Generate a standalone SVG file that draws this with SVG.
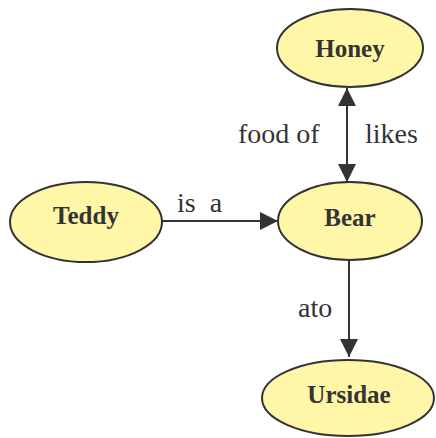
<svg xmlns="http://www.w3.org/2000/svg" width="436" height="438" viewBox="0 0 436 438">
<style>
.node{fill:#FFF6A8;stroke:#333333;stroke-width:2}
.nl{font-family:"Liberation Serif","Times New Roman",serif;font-weight:bold;font-size:25px;fill:#333333;text-anchor:middle}
.el{font-family:"Liberation Serif","Times New Roman",serif;font-size:28px;fill:#333333}
.edge{stroke:#333333;stroke-width:2;fill:none}
</style>
<defs>
<marker id="arr" markerWidth="18" markerHeight="18" viewBox="0 0 18 18" refX="18" refY="9" orient="auto-start-reverse" markerUnits="userSpaceOnUse">
<path d="M0,0 L18,9 L0,18 Z" fill="#333333"/>
</marker>
</defs>
<rect width="436" height="438" fill="#ffffff"/>
<g id="edges">
<line class="edge" x1="347" y1="88" x2="347" y2="182" marker-start="url(#arr)" marker-end="url(#arr)"/>
<line class="edge" x1="162" y1="221" x2="278" y2="221" marker-end="url(#arr)"/>
<line class="edge" x1="349" y1="260" x2="349" y2="357" marker-end="url(#arr)"/>
<text class="el" x="238" y="143">food of</text>
<text class="el" x="365" y="143">likes</text>
<text class="el" x="177" y="212" xml:space="preserve">is  a</text>
<text class="el" x="298" y="317">ato</text>
</g>
<g id="node-honey">
<ellipse class="node" cx="350" cy="48" rx="73" ry="39"/>
<text class="nl" x="350" y="57">Honey</text>
</g>
<g id="node-teddy">
<ellipse class="node" cx="86" cy="222" rx="76" ry="40"/>
<text class="nl" x="86" y="224">Teddy</text>
</g>
<g id="node-bear">
<ellipse class="node" cx="350" cy="221" rx="72" ry="39"/>
<text class="nl" x="350" y="226">Bear</text>
</g>
<g id="node-ursidae">
<ellipse class="node" cx="348" cy="398" rx="86" ry="38"/>
<text class="nl" x="349" y="403">Ursidae</text>
</g>
</svg>
